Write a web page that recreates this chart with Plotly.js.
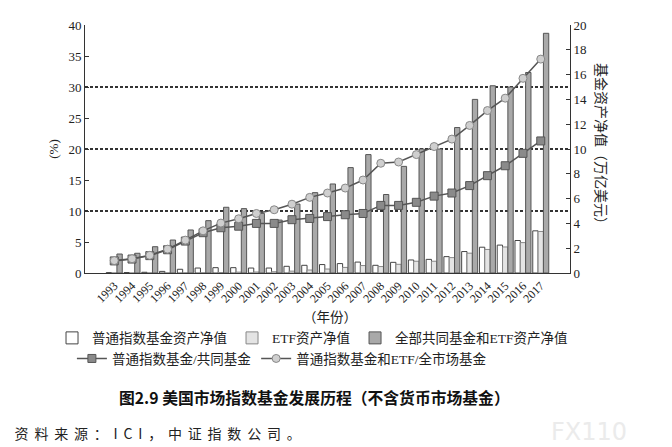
<!DOCTYPE html>
<html>
<head>
<meta charset="utf-8">
<script src="https://cdn.plot.ly/plotly-3.0.1.min.js"></script>
<style>
  html, body { margin: 0; padding: 0; background: #fff; }
  #chart { width: 672px; height: 447px; }
</style>
</head>
<body>
<div id="chart"></div>
<script>
// ---- data ----
const years = ['1993','1994','1995','1996','1997','1998','1999','2000','2001','2002','2003','2004','2005',
               '2006','2007','2008','2009','2010','2011','2012','2013','2014','2015','2016','2017'];
// 万亿美元 (right axis)
const indexFundAssets = [0.03,0.04,0.06,0.13,0.30,0.40,0.43,0.43,0.40,0.40,0.54,0.62,0.68,
                         0.76,0.88,0.62,0.86,1.05,1.10,1.32,1.73,2.08,2.25,2.62,3.40];
const etfAssets       = [0.00,0.00,0.01,0.01,0.01,0.02,0.04,0.07,0.08,0.10,0.15,0.24,0.32,
                         0.45,0.60,0.52,0.70,0.95,0.95,1.24,1.60,1.90,2.10,2.45,3.35];
const totalAssets     = [1.53,1.59,2.12,2.66,3.47,4.22,5.30,5.19,4.81,4.27,5.56,6.48,7.18,
                         8.50,9.55,6.33,8.60,10.0,10.0,11.73,14.0,15.1,15.0,16.17,19.33];
// % (left axis)
const indexShareMF    = [1.95,2.25,2.8,3.75,5.15,6.5,7.3,7.55,8.0,8.0,8.6,8.8,9.1,
                         9.4,9.6,10.9,10.9,11.4,12.4,12.9,14.1,15.7,17.3,19.3,21.3];
const indexEtfShare   = [2.0,2.3,2.85,3.85,5.3,6.8,8.05,8.75,9.6,10.2,11.1,12.2,12.9,
                         13.7,15.0,17.7,17.9,19.1,20.4,21.6,23.8,26.2,28.2,31.4,34.5];
const gridLevels      = [10, 20, 30];

const serif = 'Liberation Serif, Noto Sans CJK SC, serif';
const cjk = 'Noto Sans CJK SC, Liberation Serif, sans-serif';

const traces = [
  { type: 'bar', name: '普通指数基金资产净值', x: years, y: indexFundAssets, yaxis: 'y',
    marker: { color: '#ffffff', line: { color: '#444', width: 1 } }, legend: 'legend' },
  { type: 'bar', name: 'ETF资产净值', x: years, y: etfAssets, yaxis: 'y',
    marker: { color: '#e4e4e4', line: { color: '#888', width: 1 } }, legend: 'legend' },
  { type: 'bar', name: '全部共同基金和ETF资产净值', x: years, y: totalAssets, yaxis: 'y',
    marker: { color: '#a9a9a9', line: { color: '#555', width: 1 } }, legend: 'legend' },
  // invisible helper trace so the dashed-grid axis is drawn
  { type: 'scatter', mode: 'markers', x: [years[0]], y: [null], yaxis: 'y3', showlegend: false,
    hoverinfo: 'skip', marker: { opacity: 0 } },
  { type: 'scatter', mode: 'lines+markers', name: '普通指数基金/共同基金', x: years, y: indexShareMF,
    yaxis: 'y2', line: { color: '#555', width: 1.5 },
    marker: { symbol: 'square', size: 8, color: '#8a8a8a', line: { color: '#555', width: 1 } }, legend: 'legend2' },
  { type: 'scatter', mode: 'lines+markers', name: '普通指数基金和ETF/全市场基金', x: years, y: indexEtfShare,
    yaxis: 'y2', line: { color: '#555', width: 1.5 },
    marker: { symbol: 'circle', size: 8, color: '#cfcfcf', line: { color: '#888', width: 1 } }, legend: 'legend2' }
];

const layout = {
  width: 672, height: 447,
  margin: { l: 85, r: 102, t: 25, b: 174 },
  paper_bgcolor: '#fff', plot_bgcolor: '#fff',
  barmode: 'group', bargap: 0.1, bargroupgap: 0,
  showlegend: true,
  font: { family: serif, color: '#222' },
  xaxis: {
    type: 'category', showline: true, linecolor: '#333', linewidth: 1,
    ticks: '', tickangle: -45, tickfont: { family: serif, size: 12, color: '#222' },
    showgrid: false, zeroline: false
  },
  yaxis: {
    side: 'right', range: [0, 20], dtick: 2, ticks: 'inside', ticklen: 4, tickcolor: '#333',
    showline: true, linecolor: '#333', linewidth: 1, showgrid: false, zeroline: false,
    tickfont: { family: serif, size: 13, color: '#222' }
  },
  yaxis2: {
    overlaying: 'y', side: 'left', range: [0, 40], dtick: 5, ticks: 'inside', ticklen: 4, tickcolor: '#333',
    showline: true, linecolor: '#333', linewidth: 1, showgrid: false, zeroline: false,
    tickfont: { family: serif, size: 13, color: '#222' },
    title: { text: '(%)', font: { family: serif, size: 13, color: '#222' }, standoff: 6 }
  },
  yaxis3: {
    overlaying: 'y', side: 'left', range: [0, 40], tickmode: 'array', tickvals: gridLevels,
    showticklabels: false, ticks: '', showline: false, zeroline: false,
    showgrid: true, gridcolor: '#333', gridwidth: 1.2, griddash: '3px,2px'
  },
  legend: {
    orientation: 'h', x: -0.068, xanchor: 'left', y: -0.2, yanchor: 'top',
    font: { family: serif, size: 13.5, color: '#222' }, bgcolor: 'rgba(0,0,0,0)',
    itemwidth: 30, traceorder: 'normal'
  },
  legend2: {
    orientation: 'h', x: -0.027, xanchor: 'left', y: -0.283, yanchor: 'top',
    font: { family: serif, size: 13.5, color: '#222' }, bgcolor: 'rgba(0,0,0,0)',
    itemwidth: 30, traceorder: 'normal'
  },
  annotations: [
    { text: '（年份）', xref: 'paper', yref: 'paper', x: 0.505, y: -0.181, xanchor: 'center', yanchor: 'middle',
      showarrow: false, font: { family: serif, size: 13.5, color: '#222' } },
    { text: '基金资产净值（万亿美元）', xref: 'paper', yref: 'paper', x: 1.064, y: 0.508,
      xanchor: 'center', yanchor: 'middle', textangle: 90, showarrow: false,
      font: { family: serif, size: 14, color: '#222' } },
    { text: '<b>图2.9 美国市场指数基金发展历程（不含货币市场基金）</b>', xref: 'paper', yref: 'paper',
      x: 0.474, y: -0.504, xanchor: 'center', yanchor: 'middle', showarrow: false,
      font: { family: cjk, size: 15.8, color: '#111' } },
    { text: '资料来源：ICI，中证指数公司。', xref: 'paper', yref: 'paper', x: 0.155, y: -0.645,
      xanchor: 'center', yanchor: 'middle', showarrow: false,
      font: { family: cjk, size: 14, color: '#222' } },
    { text: 'FX110', xref: 'paper', yref: 'paper', x: 1.04, y: -0.64, xanchor: 'center', yanchor: 'middle',
      showarrow: false, font: { family: 'DejaVu Sans, sans-serif', size: 24, color: '#ebebeb' } }
  ]
};

Plotly.newPlot('chart', traces, layout, { displayModeBar: false, staticPlot: true }).then(function () {
  document.querySelectorAll('.annotation-text').forEach(function (t) {
    if (t.textContent.indexOf('资料来源') === 0) {
      t.style.letterSpacing = '5.8px';
    }
  });
});
</script>
</body>
</html>
